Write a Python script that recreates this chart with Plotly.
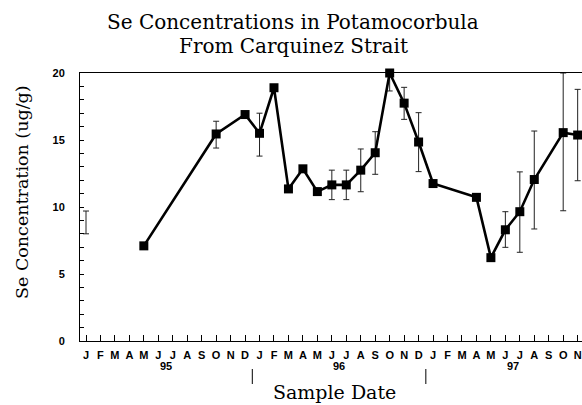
import plotly.graph_objects as go

# ---- data ----
month_letters = ["J", "F", "M", "A", "M", "J", "J", "A", "S", "O", "N", "D"]
year_labels = ["95", "96", "97"]
first_year = 1995
n_months = 35  # Jan 95 .. Nov 97

sample_dates = ["1995-05", "1995-10", "1995-12", "1996-01", "1996-02", "1996-03",
                "1996-04", "1996-05", "1996-06", "1996-07", "1996-08", "1996-09",
                "1996-10", "1996-11", "1996-12", "1997-01", "1997-04", "1997-05",
                "1997-06", "1997-07", "1997-08", "1997-10", "1997-11"]
se_values = [7.1, 15.45, 16.9, 15.5, 18.9, 11.35,
             12.85, 11.15, 11.65, 11.65, 12.75, 14.05,
             20.0, 17.75, 14.85, 11.75, 10.72, 6.22,
             8.3, 9.65, 12.05, 15.55, 15.37]
# visible upper / lower ends of the error bars (None = no bar)
err_hi = [None, 16.4, None, 17.0, None, None,
          None, None, 12.75, 12.75, 14.33, 15.62,
          20.0, 18.93, 17.04, None, None, None,
          9.65, 12.62, 15.67, 20.0, 18.78]
err_lo = [None, 14.4, None, 13.8, None, None,
          None, None, 10.55, 10.55, 11.14, 12.44,
          18.66, 16.54, 12.64, None, None, None,
          6.99, 6.62, 8.36, 9.72, 11.96]

# lone error bar without a marker (Jan 95)
lone_date = "1995-01"
lone_hi = 9.7
lone_lo = 8.0

title_lines = ["Se Concentrations in Potamocorbula", "From Carquinez Strait"]
y_title = "Se Concentration (ug/g)"
x_title = "Sample Date"


def month_index(d):
    y, m = d.split("-")
    return (int(y) - first_year) * 12 + int(m) - 1


x_vals = [month_index(d) for d in sample_dates]
plus = [(h - v) if h is not None else 0 for h, v in zip(err_hi, se_values)]
minus = [(v - l) if l is not None else 0 for l, v in zip(err_lo, se_values)]

fig = go.Figure()

fig.add_trace(go.Scatter(
    x=[month_index(lone_date)], y=[(lone_hi + lone_lo) / 2],
    mode="markers", marker=dict(size=1, color="rgba(0,0,0,0)"),
    error_y=dict(type="data", symmetric=True, array=[(lone_hi - lone_lo) / 2],
                 color="#222", thickness=1, width=3),
    showlegend=False, hoverinfo="skip"))

fig.add_trace(go.Scatter(
    x=x_vals, y=se_values, mode="lines+markers",
    line=dict(color="black", width=2.6),
    marker=dict(symbol="square", size=9, color="black"),
    error_y=dict(type="data", symmetric=False, array=plus, arrayminus=minus,
                 color="#222", thickness=1, width=3),
    cliponaxis=False, showlegend=False))

tick_font = dict(family="Liberation Sans", size=11, color="black", weight="bold")

fig.update_xaxes(
    range=[-0.415, 34.30],
    tickmode="array",
    tickvals=list(range(n_months)),
    ticktext=[month_letters[i % 12] for i in range(n_months)],
    ticks="inside", ticklen=6, tickwidth=1, tickcolor="black",
    showline=True, linecolor="black", linewidth=1, mirror=True,
    showgrid=False, zeroline=False,
    tickfont=tick_font, ticklabelstandoff=4)

fig.update_yaxes(
    range=[0, 20], tickmode="linear", tick0=0, dtick=5,
    ticks="inside", ticklen=4, tickwidth=1, tickcolor="black",
    minor=dict(dtick=1, ticks="inside", ticklen=4, tickwidth=1, tickcolor="black"),
    showline=True, linecolor="black", linewidth=1, mirror=False,
    showgrid=False, zeroline=False,
    tickfont=tick_font, ticklabelstandoff=12)

serif = "DejaVu Serif"
# plot area: x 80..582 px, y 73..341 px
def px_x(px):
    return (px - 80) / 502.0


def px_y(py):
    return (341 - py) / 268.0


annotations = []
for k, yl in enumerate(year_labels):
    annotations.append(dict(x=12 * k + 5.5, y=px_y(366), xref="x", yref="paper",
                            text=yl, showarrow=False, font=tick_font,
                            xanchor="center", yanchor="middle"))
for line_text, cy in zip(title_lines, [22, 46]):
    annotations.append(dict(x=px_x(293), y=px_y(cy), xref="paper", yref="paper",
                            text=line_text, showarrow=False,
                            font=dict(family=serif, size=20, color="black"),
                            xanchor="center", yanchor="middle"))
annotations.append(dict(x=px_x(22), y=px_y(192), xref="paper", yref="paper",
                        text=y_title, textangle=-90,
                        showarrow=False, font=dict(family=serif, size=17.5, color="black"),
                        xanchor="center", yanchor="middle"))
annotations.append(dict(x=px_x(334), y=px_y(392), xref="paper", yref="paper",
                        text=x_title,
                        showarrow=False, font=dict(family=serif, size=19, color="black"),
                        xanchor="center", yanchor="middle"))

shapes = []
for k in range(1, len(year_labels)):
    sx = 12 * k - 0.5
    shapes.append(dict(type="line", xref="x", yref="paper", x0=sx, x1=sx,
                       y0=px_y(369), y1=px_y(384), line=dict(color="black", width=1)))

fig.update_layout(
    width=582, height=405,
    margin=dict(l=80, r=0, t=73, b=64),
    paper_bgcolor="white", plot_bgcolor="white",
    annotations=annotations, shapes=shapes,
    showlegend=False)

fig.write_html("out.html",
               config={"displayModeBar": False},
               post_script="document.body.style.margin='0';document.body.style.overflow='hidden';")
